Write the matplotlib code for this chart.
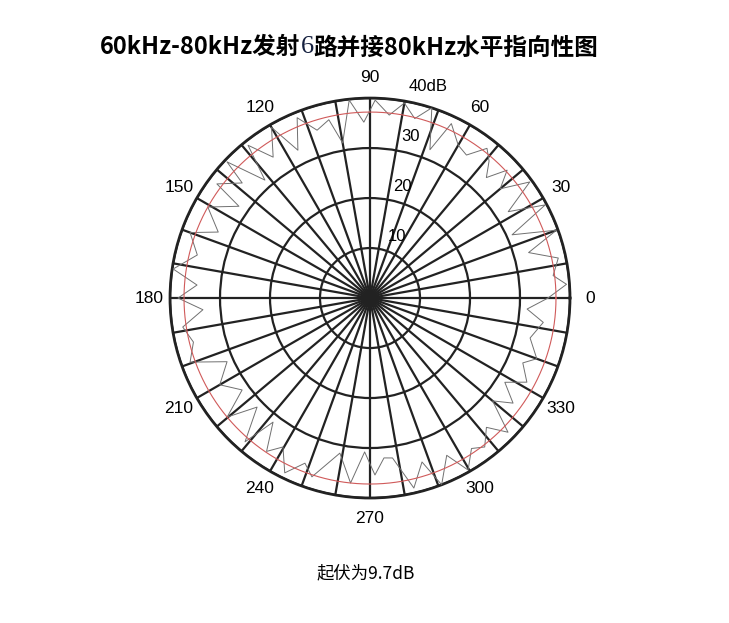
import numpy as np
import matplotlib.pyplot as plt

plt.rcParams['font.family'] = ['Liberation Sans', 'DejaVu Sans']

angles = [0, 4, 7, 12, 16, 20, 24, 28, 32, 36, 40, 43, 46, 49, 52, 56, 60, 65, 68, 72,
          76, 80, 84, 88.5, 92, 96, 100, 103, 107.5, 112, 116, 120, 124.5, 128.6, 131.7,
          136.4, 138, 143.3, 145, 150.7, 156.5, 160, 166, 171.6, 175.7, 180, 184, 188.8,
          194, 199.6, 204, 210, 215.7, 219.8, 224, 229, 232, 236, 239.7, 244, 248.5, 252,
          259, 264, 268, 271.6, 275, 278, 283, 287.6, 291, 296, 299.7, 304, 307.6, 312,
          315.8, 320, 323.7, 328, 331.8, 337, 340, 346, 352, 356, 360]
levels = [35.6, 39.4, 36.9, 38.5, 33.0, 39.7, 31.1, 39.7, 32.6, 39.5, 34.0, 37.5, 33.5,
          36.3, 38.0, 34.5, 35.3, 38.5, 32.0, 40.0, 37.0, 39.6, 36.8, 39.6, 35.2, 39.8,
          31.5, 36.6, 35.2, 38.9, 32.9, 39.4, 34.2, 39.1, 31.6, 39.5, 34.4, 38.2, 32.0,
          37.2, 33.1, 38.3, 35.6, 39.8, 34.7, 38.4, 33.5, 37.9, 36.4, 38.2, 31.3, 34.7,
          31.5, 37.2, 31.4, 38.1, 31.5, 37.0, 34.5, 38.9, 35.5, 37.6, 31.6, 37.2, 30.8,
          35.4, 32.1, 32.3, 39.0, 34.4, 40.0, 35.0, 39.6, 36.3, 37.6, 34.8, 38.5, 32.0,
          35.5, 31.8, 35.6, 33.2, 35.5, 33.0, 35.0, 31.5, 35.6]
ref_level = 37.2
ring_ticks = [10, 20, 30, 40]
ring_labels = ['10', '20', '30', '40dB']
angle_ticks = list(range(0, 360, 30))

# title has a stray serif "6" in the middle
title_parts = ['60kHz-80kHz发射', '6', '路并接80kHz水平指向性图']
caption = '起伏为9.7dB'

fig = plt.figure(figsize=(7.29, 6.23), dpi=100)
ax = fig.add_axes([0.2332, 0.2006, 0.5487, 0.642], projection='polar')

th = np.deg2rad(angles)
ax.plot(th, levels, color='#707070', lw=0.7, zorder=3)
circ = np.linspace(0, 2 * np.pi, 361)
ax.plot(circ, [ref_level] * len(circ), color='#d05a5a', lw=0.8, zorder=3)

ax.set_ylim(0, 40)
ax.set_yticks(ring_ticks)
ax.set_yticklabels([])
ax.set_xticks(np.deg2rad(np.arange(0, 360, 10)))
ax.set_xticklabels([])
ax.grid(True, color='#222222', lw=1.6)
ax.spines['polar'].set_color('#222222')
ax.spines['polar'].set_linewidth(2)

for a in angle_ticks:
    ax.text(np.deg2rad(a), 44.1, str(a), ha='center', va='center', fontsize=12.5)

# ring labels along ~75 deg
lab_pos = [(66.5, 13.4), (74, 23.2), (76, 33.4), (74.7, 43.8)]
for (a, r), s in zip(lab_pos, ring_labels):
    ax.text(np.deg2rad(a), r, s, ha='center', va='center', fontsize=12, zorder=5)

# title built piece by piece
cjk = ['Noto Sans CJK SC', 'DejaVu Sans']
fig.canvas.draw()
rend = fig.canvas.get_renderer()
styles = [dict(family=cjk, fontweight='bold', fontsize=17),
          dict(family=['Liberation Serif'], fontsize=19, color='#15203f'),
          dict(family=cjk, fontweight='bold', fontsize=17)]
pieces = []
for s, st in zip(title_parts, styles):
    t = fig.text(0, 0.924, s, ha='left', va='center', **st)
    pieces.append(t)
widths = [p.get_window_extent(rend).width for p in pieces]
x = 349.5 - sum(widths) / 2
for p, w in zip(pieces, widths):
    p.set_x(x / fig.bbox.width)
    x += w

fig.text(0.502, 0.08, caption, ha='center', va='center', fontsize=12.5, family=cjk)

fig.savefig('out.png', dpi=100)
